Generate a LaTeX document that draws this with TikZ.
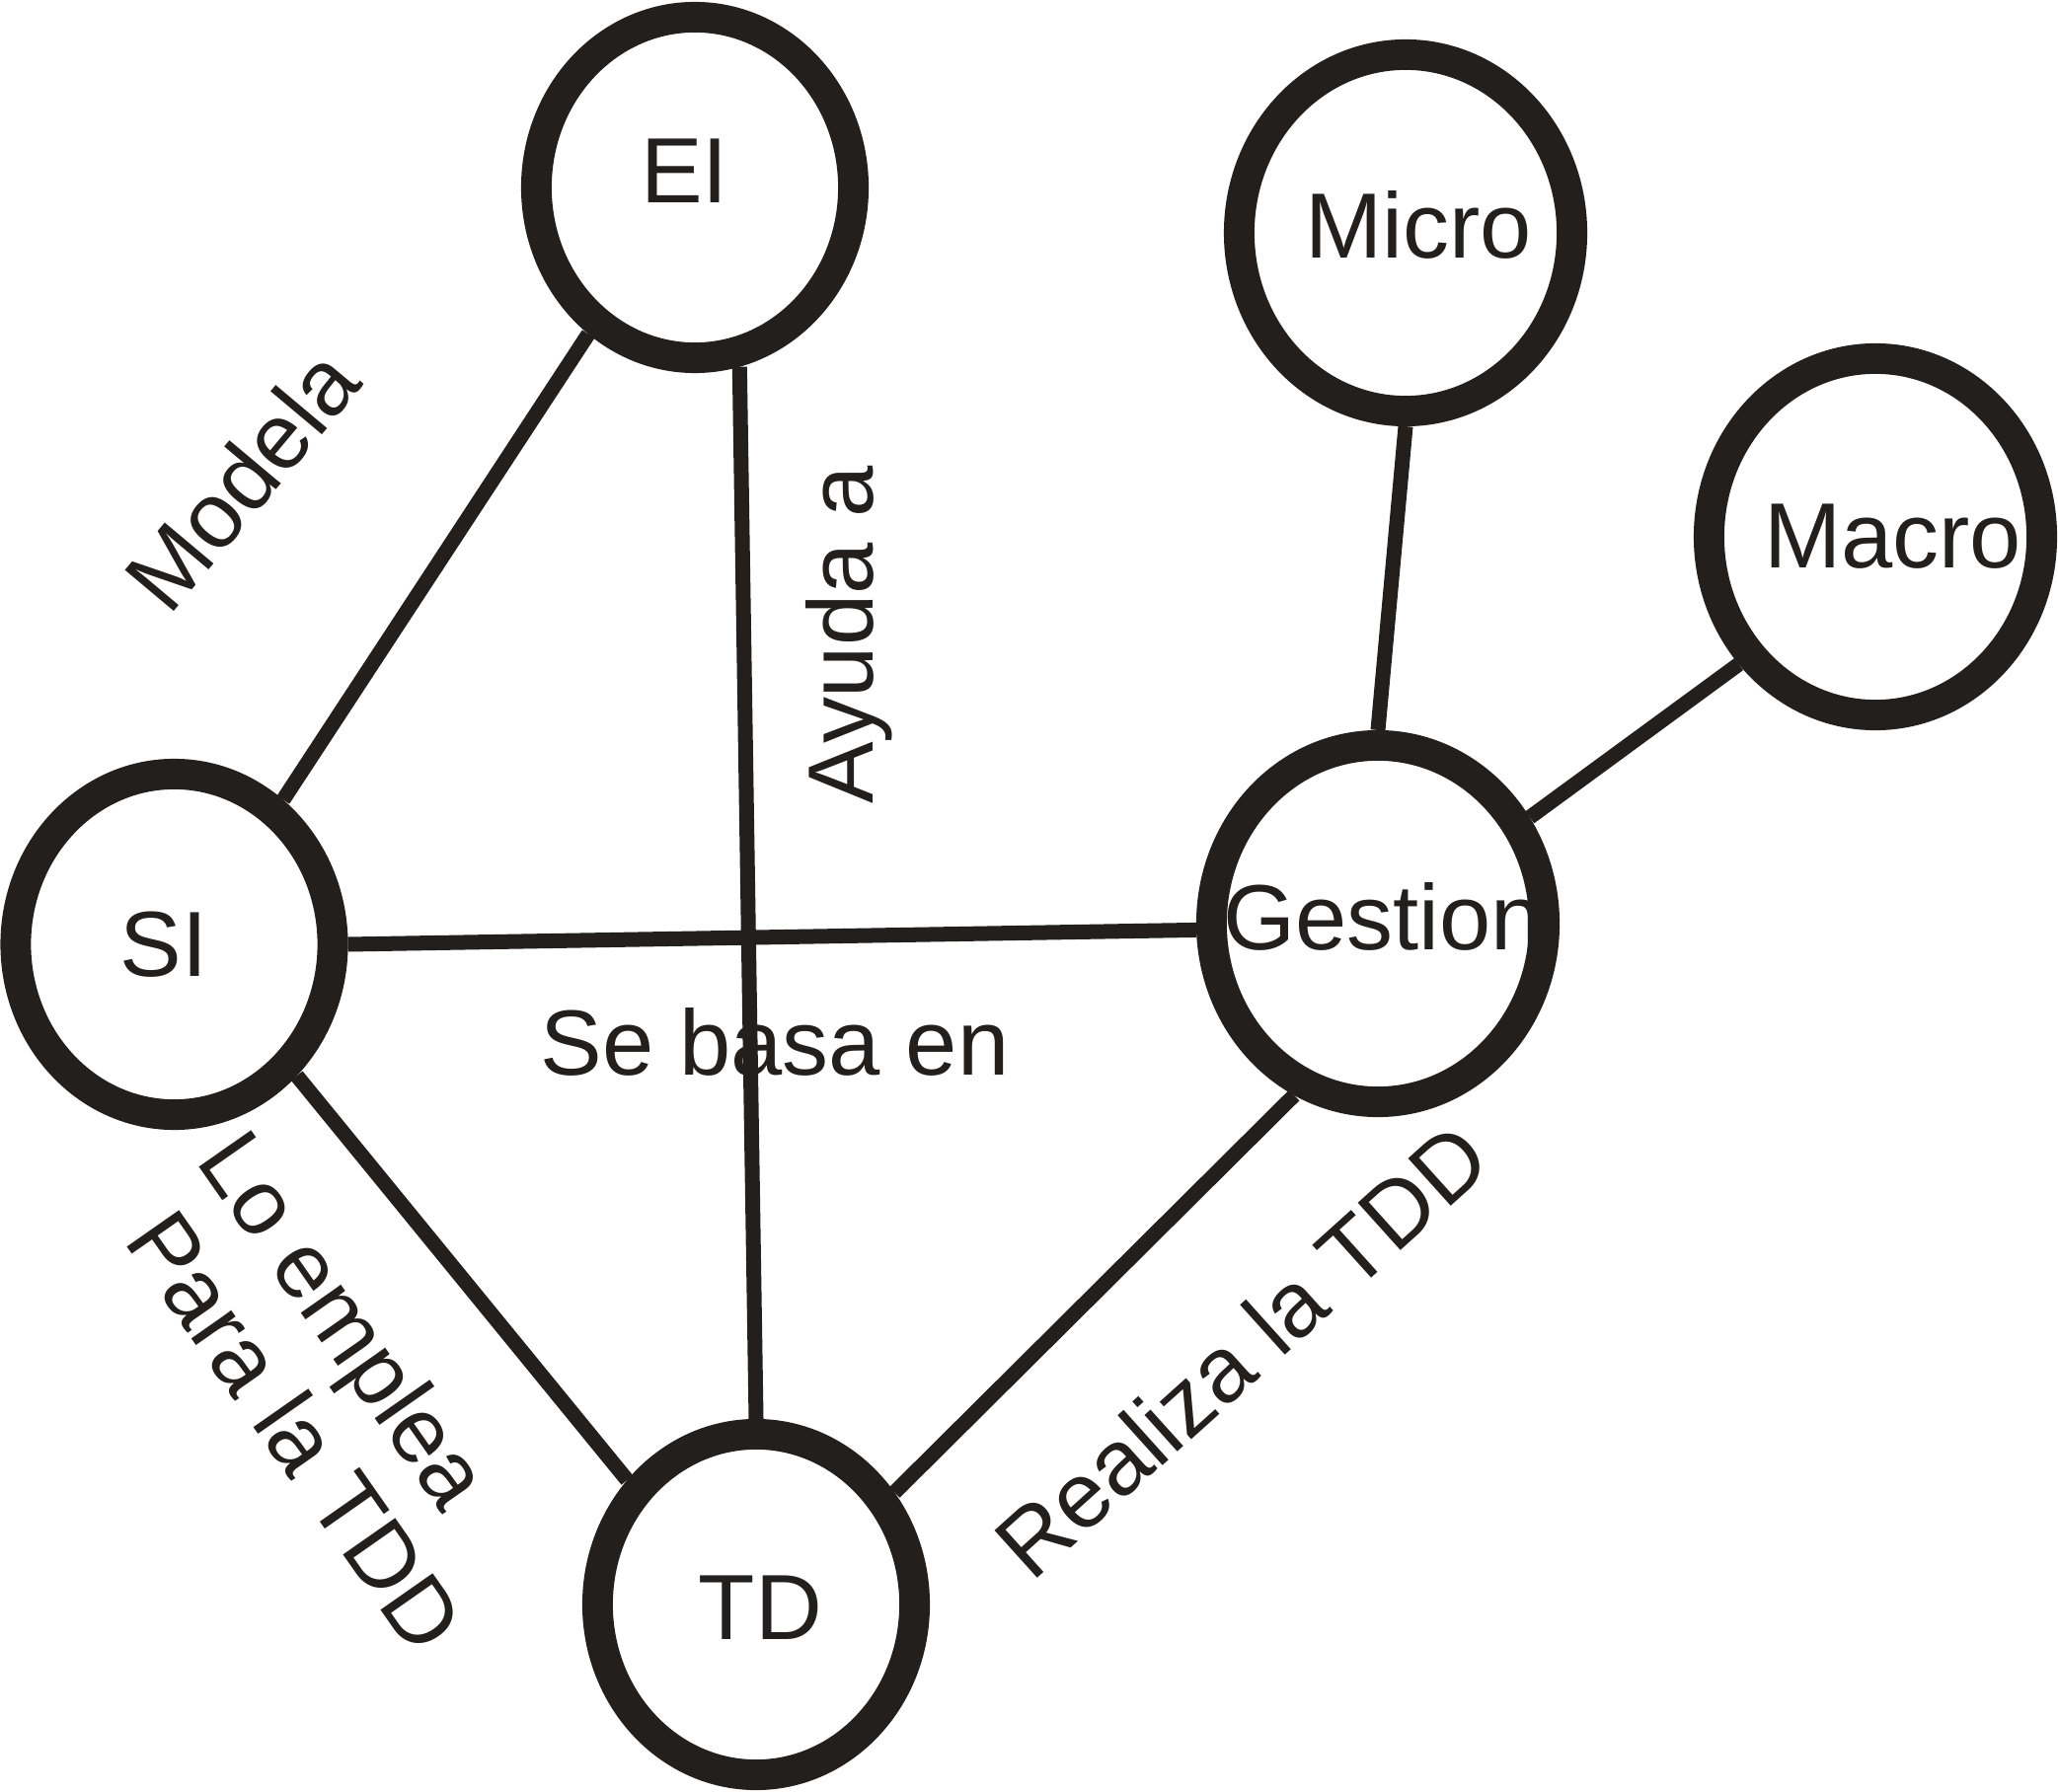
\documentclass[tikz,border=0pt]{standalone}
\usepackage{fontspec}
\setmainfont{Liberation Sans}
\usetikzlibrary{shapes.geometric}
\definecolor{ink}{RGB}{35,31,29}

\begin{document}
\begin{tikzpicture}[x=0.01cm,y=-0.01cm,line join=bevel,
  ring/.style={draw=ink,ellipse,line width=8.8pt,inner sep=0pt},
  smallring/.style={ring,minimum width=3.21cm,minimum height=3.45cm},
  bigring/.style={ring,minimum width=3.37cm,minimum height=3.61cm},
  txt/.style={text=ink,inner sep=0pt,anchor=base,font=\fontsize{26.7pt}{30.2pt}\selectfont},
  edge/.style={draw=ink,line width=4.27pt}]
  \useasboundingbox (0,0) rectangle (2085,1816);
%%
  % Node: EI
  \node[smallring] (EI) at (704,190) {};
  \node[txt] (EItxt) at (693.5,205.5) {EI};
  % Node: Micro
  \node[bigring] (Micro) at (1424,236) {};
  \node[txt] (Microtxt) at (1437,262) {Micro};
  % Node: Macro
  \node[bigring] (Macro) at (1900,544) {};
  \node[txt] (Macrotxt) at (1917.5,576) {Macro};
  % Node: Gestion
  \node[bigring] (Gestion) at (1396,936) {};
  \node[txt] (Gestiontxt) at (1401,962) {Gestion};
  % Node: SI
  \node[smallring] (SI) at (176.5,957) {};
  \node[txt] (SItxt) at (166,989) {SI};
  % Node: TD
  \node[smallring] (TD) at (766,1626) {};
  \node[txt] (TDtxt) at (770.5,1661) {TD};
%%
  % Edge: SI -- EI
  \draw[edge] (SI.53) -- (EI.234);
  % Edge: EI -- TD
  \draw[edge] (EI.284) -- (TD.90);
  % Edge: SI -- Gestion
  \draw[edge] (SI.0) -- (Gestion.182);
  % Edge: SI -- TD
  \draw[edge] (SI.313) -- (TD.136);
  % Edge: TD -- Gestion
  \draw[edge] (TD.39) -- (Gestion.244);
  % Edge: Micro -- Gestion
  \draw[edge] (Micro.270) -- (Gestion.90);
  % Edge: Macro -- Gestion
  \draw[edge] (Macro.223) -- (Gestion.35);
%%
  % Edge labels
  \node[txt,rotate=50] (Modela) at (270.5,507.4) {Modela};
  \node[txt,rotate=90] (Ayuda) at (884,643.5) {Ayuda a};
  \node[txt] (Basa) at (785,1089) {Se basa en};
  \node[txt,rotate=42] (Realiza) at (1280,1393) {Realiza la TDD};
  \node[txt,anchor=north west,align=left,rotate=-55] (Emplea) at (253,1136)
    {Lo emplea\\\hspace*{.27em}Para la TDD};
%
\end{tikzpicture}
\end{document}
